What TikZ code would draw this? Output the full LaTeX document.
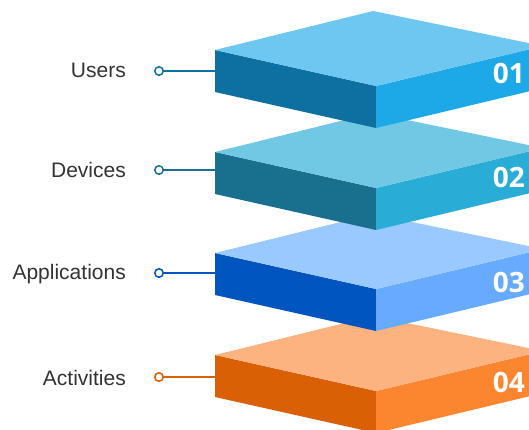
\documentclass[tikz,border=0pt]{standalone}
\usepackage{fontspec}
\setmainfont{Liberation Sans}
\newfontfamily\numfont{Open Sans}
\definecolor{labelgray}{HTML}{333333}
% layer colours: top face, left face, right face
\definecolor{topA}{HTML}{6DC7F1}\definecolor{leftA}{HTML}{0E70A1}\definecolor{rightA}{HTML}{1DA8E8}
\definecolor{topB}{HTML}{70C8E4}\definecolor{leftB}{HTML}{19708E}\definecolor{rightB}{HTML}{29ADD6}
\definecolor{topC}{HTML}{99C9FF}\definecolor{leftC}{HTML}{0056BE}\definecolor{rightC}{HTML}{66ABFF}
\definecolor{topD}{HTML}{FCB37F}\definecolor{leftD}{HTML}{DA6006}\definecolor{rightD}{HTML}{FC8630}
\tikzset{
  lbl/.style={anchor=base east, text=labelgray, font=\fontsize{21}{23}\selectfont, inner sep=0pt},
  num/.style={anchor=base east, text=white, font=\numfont\bfseries\fontsize{28}{30}\selectfont, inner sep=0pt},
  dot/.style={circle, draw, fill=white, line width=1.5pt, minimum size=8.5pt, inner sep=0pt},
  lead/.style={line width=1.8pt}
}
% one layer: #1 y of left corner, #2 top, #3 left, #4 right colour, #5 name
\newcommand{\slab}[5]{%
  \coordinate (#5L)  at (215,#1);
  \coordinate (#5T)  at (373,#1-39);
  \coordinate (#5F)  at (376,#1+36);
  \coordinate (#5R)  at (543,#1-4);
  \coordinate (#5Lb) at (215,#1+42);
  \coordinate (#5Fb) at (376,#1+78);
  \coordinate (#5Rb) at (543,#1+38);
  \fill[#3] (#5L) -- (#5F) -- (#5Fb) -- (#5Lb) -- cycle;
  \fill[#4] (#5F) -- (#5R) -- (#5Rb) -- (#5Fb) -- cycle;
  \fill[#2] (#5L) -- (#5T) -- (#5R) -- (#5F) -- cycle;
}
\begin{document}
\begin{tikzpicture}[x=1pt,y=-1pt]
\useasboundingbox (0,0) rectangle (529,429);
\clip (0,0) rectangle (529,429);
\fill[white] (0,0) rectangle (529,429);

% layers, drawn from the bottom up so each one covers the next
\slab{355}{topD}{leftD}{rightD}{d}
\slab{253}{topC}{leftC}{rightC}{c}
\slab{152}{topB}{leftB}{rightB}{b}
\slab{50}{topA}{leftA}{rightA}{a}

% layer numbers
\node[num] (na) at (525,83)  {01};
\node[num] (nb) at (525,187) {02};
\node[num] (nc) at (525,292) {03};
\node[num] (nd) at (525,392) {04};

% connectors with their end circles, running level into each layer's left face
\node[dot, draw=leftA] (pa) at (159,71)  {};
\node[dot, draw=leftB] (pb) at (159,170) {};
\node[dot, draw=leftC] (pc) at (159,273) {};
\node[dot, draw=leftD] (pd) at (159,377) {};
\draw[lead, leftA] (pa) -- (pa -| aL);
\draw[lead, leftB] (pb) -- (pb -| bL);
\draw[lead, leftC] (pc) -- (pc -| cL);
\draw[lead, leftD] (pd) -- (pd -| dL);

% labels
\node[lbl] (la) at (126,77)  {Users};
\node[lbl] (lb) at (126,177) {Devices};
\node[lbl] (lc) at (126,279) {Applications};
\node[lbl] (ld) at (126,385) {Activities};
\end{tikzpicture}
\end{document}
